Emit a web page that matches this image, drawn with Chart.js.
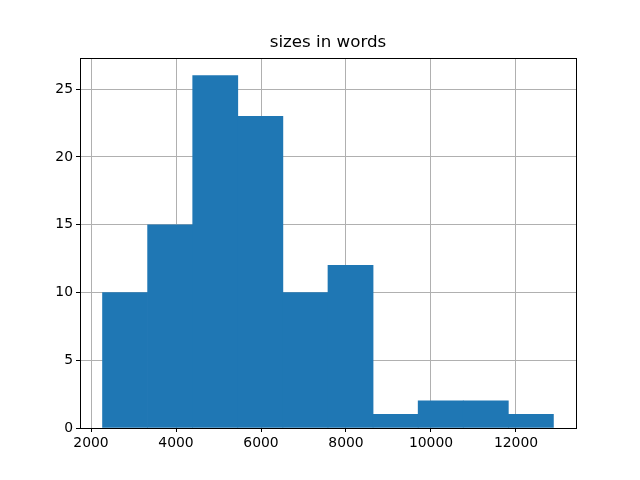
<!DOCTYPE html>
<html>
<head>
<meta charset="utf-8">
<script src="https://cdn.jsdelivr.net/npm/chart.js@4/dist/chart.umd.min.js"></script>
<style>
  body { margin: 0; background: #fff; }
</style>
</head>
<body>
<canvas id="hist" width="640" height="480"></canvas>
<script>
// histogram bins (edges) and counts
const binEdges = [2271, 3332, 4393, 5454, 6515, 7576, 8637, 9698, 10759, 11820, 12881];
const counts = [10, 15, 26, 23, 10, 12, 1, 2, 2, 1];
const xTicks = [2000, 4000, 6000, 8000, 10000, 12000];
const yTicks = [0, 5, 10, 15, 20, 25];
const titleText = 'sizes in words';

const points = counts.map((c, i) => ({ x: (binEdges[i] + binEdges[i + 1]) / 2, y: c }));

// matplotlib-style frame round the plot area
const framePlugin = {
  id: 'frame',
  afterDraw(chart) {
    const a = chart.chartArea;
    const ctx = chart.ctx;
    ctx.save();
    ctx.strokeStyle = '#000';
    ctx.lineWidth = 1;
    ctx.strokeRect(Math.round(a.left) + 0.5, Math.round(a.top) + 0.5,
      Math.round(a.right - a.left), Math.round(a.bottom - a.top));
    ctx.restore();
  }
};

const font = { family: 'DejaVu Sans', size: 13.9 };

new Chart(document.getElementById('hist').getContext('2d'), {
  type: 'bar',
  data: {
    datasets: [{
      data: points,
      backgroundColor: '#1f77b4',
      borderWidth: 0,
      barPercentage: 1,
      categoryPercentage: 1
    }]
  },
  options: {
    responsive: false,
    animation: false,
    layout: { padding: { left: 0, right: 64, top: 0, bottom: 0 } },
    plugins: {
      legend: { display: false },
      tooltip: { enabled: false },
      title: {
        display: true,
        fullSize: false,
        text: titleText,
        color: '#000',
        font: { family: 'DejaVu Sans', size: 16.7, weight: 'normal', lineHeight: 1.2 },
        padding: { top: 33, bottom: 5 }
      }
    },
    scales: {
      x: {
        type: 'linear',
        min: 1741,
        max: 13412,
        offset: false,
        z: 1,
        grid: { offset: false, color: '#b0b0b0', lineWidth: 1, tickColor: '#000', tickLength: 4 },
        border: { display: false },
        ticks: { color: '#000', font: font, padding: 3, maxRotation: 0, callback: v => String(v) },
        afterBuildTicks: s => { s.ticks = xTicks.map(v => ({ value: v })); },
        afterFit: s => { s.height = 52; }
      },
      y: {
        min: 0,
        max: 27.3,
        z: 1,
        grid: { color: '#b0b0b0', lineWidth: 1, tickColor: '#000', tickLength: 4 },
        border: { display: false },
        ticks: { color: '#000', font: font, padding: 3, callback: v => String(v) },
        afterBuildTicks: s => { s.ticks = yTicks.map(v => ({ value: v })); },
        afterFit: s => { s.width = 80; }
      }
    }
  },
  plugins: [framePlugin]
});
</script>
</body>
</html>
